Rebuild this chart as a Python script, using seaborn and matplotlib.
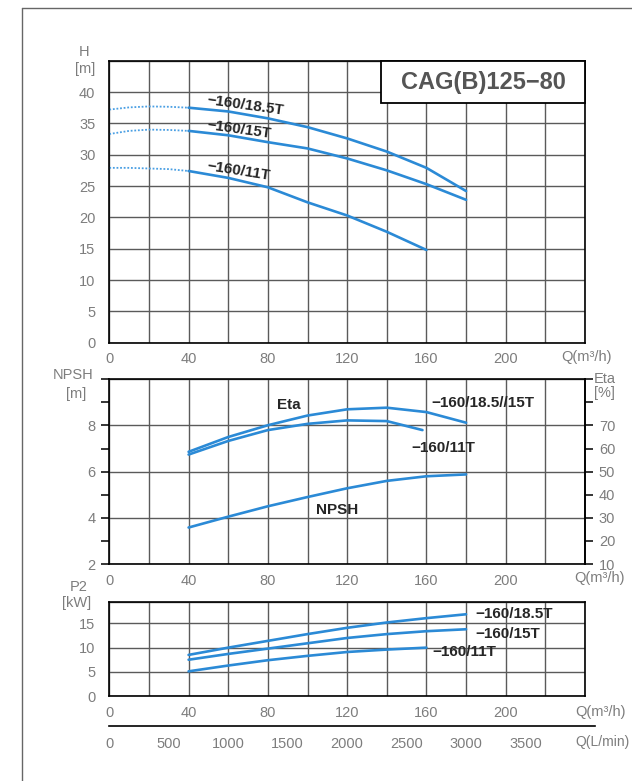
import matplotlib
matplotlib.use("Agg")
import matplotlib.pyplot as plt
import seaborn as sns
from matplotlib.patches import Rectangle
from matplotlib.lines import Line2D

# ---------------- data ----------------
q_dot = [0, 10, 20, 30, 40]
h185_dot = [37.2, 37.55, 37.7, 37.65, 37.5]
h15_dot = [33.3, 33.8, 34.0, 33.95, 33.8]
h11_dot = [27.9, 27.9, 27.8, 27.7, 27.4]

q_full = [40, 60, 80, 100, 120, 140, 160, 180]
q_11 = [40, 60, 80, 100, 120, 140, 160]
h185 = [37.5, 36.9, 35.8, 34.4, 32.6, 30.5, 27.9, 24.2]
h15 = [33.8, 33.1, 32.0, 31.0, 29.4, 27.5, 25.3, 22.8]
h11 = [27.4, 26.3, 24.8, 22.4, 20.3, 17.7, 14.8]

npsh = [3.58, 4.05, 4.5, 4.9, 5.28, 5.6, 5.8, 5.88]
eta_185_15 = [58.6, 65.0, 70.1, 74.3, 77.0, 77.7, 75.8, 71.2]
q_eta11 = [40, 60, 80, 100, 120, 140, 158]
eta_11 = [57.4, 63.3, 68.0, 70.7, 72.2, 71.9, 68.0]

p185 = [8.5, 10.0, 11.4, 12.8, 14.1, 15.2, 16.1, 16.9]
p15 = [7.5, 8.7, 9.8, 10.9, 12.0, 12.8, 13.4, 13.8]
p11 = [5.1, 6.3, 7.4, 8.3, 9.1, 9.6, 10.0]

q_ticks = [0, 20, 40, 60, 80, 100, 120, 140, 160, 180, 200, 220, 240]
q_labels = ['0', '', '40', '', '80', '', '120', '', '160', '', '200', '', '']
h_ticks = [0, 5, 10, 15, 20, 25, 30, 35, 40, 45]
h_labels = ['0', '5', '10', '15', '20', '25', '30', '35', '40', '']
npsh_ticks = [2, 4, 6, 8, 10]
npsh_labels = ['2', '4', '6', '8', '']
npsh_minor = [3, 5, 7, 9]
eta_ticks = [10, 20, 30, 40, 50, 60, 70, 80, 90]
eta_labels = ['10', '20', '30', '40', '50', '60', '70', '', '']
p_ticks = [0, 5, 10, 15, 19.5]
p_labels = ['0', '5', '10', '15', '']
lmin_ticks = [0, 500, 1000, 1500, 2000, 2500, 3000, 3500]
lmin_labels = ['0', '500', '1000', '1500', '2000', '2500', '3000', '3500']

title = "CAG(B)125\u221280"

# ---------------- style ----------------
sns.set_style("white")
plt.rcParams['font.family'] = ['Liberation Sans', 'DejaVu Sans']

W, H = 632, 781
BLUE = "#2b8ad6"
DOT = "#4a9fe3"
GRID = "#5a5a5a"
TXT = "#7d7d7d"
LW = 1.9


def fx(px):
    return px / W


def fy(py):
    return 1 - py / H


fig = plt.figure(figsize=(W / 100, H / 100), dpi=100)

L, R = 109.3, 585
ax_h = fig.add_axes([fx(L), fy(342.7), fx(R) - fx(L), (342.7 - 60.7) / H])
ax_n = fig.add_axes([fx(L), fy(564), fx(R) - fx(L), (564 - 379.3) / H])
ax_p = fig.add_axes([fx(L), fy(696), fx(R) - fx(L), (696 - 601.7) / H])


def style_axes(ax):
    ax.set_xlim(0, 240)
    ax.set_xticks(q_ticks)
    ax.set_xticklabels(q_labels)
    ax.set_axisbelow(True)
    ax.grid(True, which='major', color=GRID, lw=1.0)
    for s in ax.spines.values():
        s.set_color('black')
        s.set_linewidth(1.2)
        s.set_visible(True)
    ax.tick_params(axis='x', direction='inout', length=8, width=1.1,
                   color='black', labelcolor=TXT, labelsize=10.5, pad=3)
    ax.tick_params(axis='y', direction='out', length=6, width=1.1,
                   color='black', labelcolor=TXT, labelsize=10.5, pad=4)
    ax.set_xlabel('')
    ax.set_ylabel('')


# ---- top: H ----
for qq, hh in [(q_dot, h185_dot), (q_dot, h15_dot), (q_dot, h11_dot)]:
    sns.lineplot(x=qq, y=hh, ax=ax_h, color=DOT, lw=1.3,
                 linestyle=(0, (1, 1)), estimator=None, sort=False)
for qq, hh in [(q_full, h185), (q_full, h15), (q_11, h11)]:
    sns.lineplot(x=qq, y=hh, ax=ax_h, color=BLUE, lw=LW,
                 estimator=None, sort=False)
style_axes(ax_h)
ax_h.set_ylim(0, 45)
ax_h.set_yticks(h_ticks)
ax_h.set_yticklabels(h_labels)

ax_h.text(49.1, 38.7, "\u2212160/18.5T", fontsize=11, fontweight='bold',
          rotation=-8, rotation_mode='anchor', ha='left', va='center')
ax_h.text(49.1, 34.8, "\u2212160/15T", fontsize=11, fontweight='bold',
          rotation=-8, rotation_mode='anchor', ha='left', va='center')
ax_h.text(49.1, 28.2, "\u2212160/11T", fontsize=11, fontweight='bold',
          rotation=-9, rotation_mode='anchor', ha='left', va='center')

bx0 = (381 - L) / (R - L)
by0 = 1 - (103.3 - 60.7) / (342.7 - 60.7)
ax_h.add_patch(Rectangle((bx0, by0), 1 - bx0, 1 - by0, transform=ax_h.transAxes,
                         facecolor='white', edgecolor='black', lw=1.3,
                         zorder=5, clip_on=False))
ax_h.text((bx0 + 1) / 2, (by0 + 1) / 2, title, transform=ax_h.transAxes,
          ha='center', va='center', fontsize=17, fontweight='bold',
          color='#555555', zorder=6)

# ---- middle: NPSH / Eta ----
sns.lineplot(x=q_full, y=npsh, ax=ax_n, color=BLUE, lw=LW,
             estimator=None, sort=False)
style_axes(ax_n)
ax_n.set_ylim(2, 10)
ax_n.set_yticks(npsh_ticks)
ax_n.set_yticklabels(npsh_labels)
ax_n.set_yticks(npsh_minor, minor=True)
ax_n.tick_params(axis='y', which='minor', direction='out', length=6,
                 width=1.1, color='black')

ax_e = ax_n.twinx()
sns.lineplot(x=q_full, y=eta_185_15, ax=ax_e, color=BLUE, lw=LW,
             estimator=None, sort=False)
sns.lineplot(x=q_eta11, y=eta_11, ax=ax_e, color=BLUE, lw=LW,
             estimator=None, sort=False)
ax_e.set_ylim(10, 90)
ax_e.set_yticks(eta_ticks)
ax_e.set_yticklabels(eta_labels)
ax_e.grid(False)
ax_e.set_ylabel('')
ax_e.tick_params(axis='y', direction='out', length=6, width=1.1,
                 color='black', labelcolor=TXT, labelsize=10.5, pad=4)
for s in ax_e.spines.values():
    s.set_visible(False)
ax_e.spines['right'].set_visible(True)
ax_e.spines['right'].set_color('black')
ax_e.spines['right'].set_linewidth(1.2)

ax_n.text(90.6, 8.87, "Eta", fontsize=11, fontweight='bold',
          ha='center', va='center')
ax_n.text(162.6, 8.96, "\u2212160/18.5//15T", fontsize=11, fontweight='bold',
          ha='left', va='center')
ax_n.text(152.5, 7.04, "\u2212160/11T", fontsize=11, fontweight='bold',
          ha='left', va='center')
ax_n.text(104.2, 4.35, "NPSH", fontsize=11, fontweight='bold',
          ha='left', va='center')

# ---- bottom: P2 ----
for qq, pp in [(q_full, p185), (q_full, p15), (q_11, p11)]:
    sns.lineplot(x=qq, y=pp, ax=ax_p, color=BLUE, lw=LW,
                 estimator=None, sort=False)
style_axes(ax_p)
ax_p.set_ylim(0, 19.5)
ax_p.set_yticks(p_ticks)
ax_p.set_yticklabels(p_labels)
ax_p.text(184.9, 17.0, "\u2212160/18.5T", fontsize=11, fontweight='bold',
          ha='left', va='center')
ax_p.text(184.9, 12.9, "\u2212160/15T", fontsize=11, fontweight='bold',
          ha='left', va='center')
ax_p.text(163.2, 9.2, "\u2212160/11T", fontsize=11, fontweight='bold',
          ha='left', va='center')

# ---- L/min axis ----
ax_l = fig.add_axes([fx(L), fy(726), (595 - L) / W, 0.01])
ax_l.set_xlim(0, 4000 * (595 - L) / (R - L))
ax_l.set_ylim(0, 1)
ax_l.set_yticks([])
ax_l.set_xticks(lmin_ticks)
ax_l.set_xticklabels(lmin_labels)
ax_l.patch.set_alpha(0)
for side in ['left', 'right', 'top']:
    ax_l.spines[side].set_visible(False)
ax_l.spines['bottom'].set_color('black')
ax_l.spines['bottom'].set_linewidth(1.2)
ax_l.tick_params(axis='x', direction='out', length=4, width=1.1,
                 color='black', labelcolor=TXT, labelsize=10.5, pad=4)
ax_l.grid(False)

# ---- axis titles ----
def ftext(px, py, s, **kw):
    fig.text(fx(px), fy(py), s, color=TXT, fontsize=10.5, ha='center',
             va='center', **kw)

ftext(84, 52, "H")
ftext(85, 69, "[m]")
ftext(73.3, 375.3, "NPSH")
ftext(76.3, 394, "[m]")
ftext(79, 587, "P2")
ftext(77, 603, "[kW]")
ftext(604.5, 379, "Eta")
ftext(604, 393, "[%]")
fig.text(fx(561.7), fy(357), "Q(m\u00b3/h)", color=TXT, fontsize=10.5,
         ha='left', va='center')
fig.text(fx(574), fy(578.3), "Q(m\u00b3/h)", color=TXT, fontsize=10.5,
         ha='left', va='center')
fig.text(fx(575), fy(711.7), "Q(m\u00b3/h)", color=TXT, fontsize=10.5,
         ha='left', va='center')
fig.text(fx(630), fy(741.7), "Q(L/min)", color=TXT, fontsize=10,
         ha='right', va='center')

# ---- page border ----
fig.add_artist(Line2D([fx(21.7), fx(21.7)], [fy(8.3), 0], color='#666666',
                      lw=1.0, transform=fig.transFigure))
fig.add_artist(Line2D([fx(21.7), 1], [fy(8.3), fy(8.3)], color='#666666',
                      lw=1.0, transform=fig.transFigure))

fig.savefig("out.png", dpi=100)
